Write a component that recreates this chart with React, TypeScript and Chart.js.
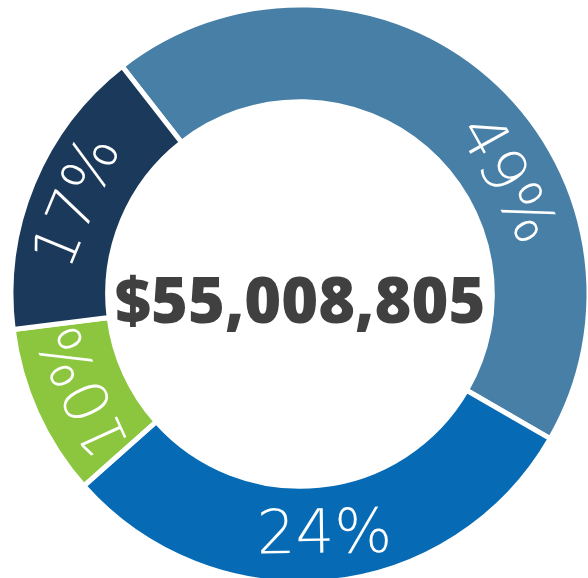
import React, { useEffect, useRef } from "react";
import { Chart, registerables } from "chart.js";

Chart.register(...registerables);

// Segment sizes as they appear in the picture (share of the ring, in %)
const segments = ["Segment A", "Segment B", "Segment C", "Segment D"];
const arcShares = [43.9, 30.1, 9.6, 16.4];
// Labels printed on the ring
const percentLabels = ["49%", "24%", "10%", "17%"];
const totalLabel = "$55,008,805";
const colors = ["#477FA6", "#066BB4", "#8CC63F", "#1B3A5B"];

// label style tweaks
const LABEL_ANGLE_SHIFT = [20, 0, 0, 0]; // degrees
const LABEL_TILT = [0, 5, 0, 0]; // degrees
const LABEL_RADIAL_SHIFT = [-3, 8, -3, 2]; // px
const LABEL_RADIUS = 236;

const ringLabels = {
  id: "ringLabels",
  afterDatasetsDraw(chart: any) {
    const ctx = chart.ctx;
    const meta = chart.getDatasetMeta(0);
    let cx = 0;
    let cy = 0;
    meta.data.forEach((arc: any, i: number) => {
      const p = arc.getProps(["x", "y", "startAngle", "endAngle"], true);
      cx = p.x;
      cy = p.y;
      const mid = (p.startAngle + p.endAngle) / 2 + (LABEL_ANGLE_SHIFT[i] * Math.PI) / 180;
      const r = LABEL_RADIUS + LABEL_RADIAL_SHIFT[i];
      const px = p.x + Math.cos(mid) * r;
      const py = p.y + Math.sin(mid) * r;
      let rot = mid + Math.PI / 2;
      let deg = ((rot * 180) / Math.PI) % 360;
      if (deg < 0) deg += 360;
      if (deg > 135 && deg < 225) rot += Math.PI;
      rot += (LABEL_TILT[i] * Math.PI) / 180;
      ctx.save();
      ctx.translate(px, py);
      ctx.rotate(rot);
      ctx.fillStyle = "#ffffff";
      ctx.font = "normal 200 61px 'DejaVu Sans', sans-serif";
      ctx.textAlign = "center";
      ctx.textBaseline = "middle";
      ctx.fillText(percentLabels[i], 0, 0);
      ctx.restore();
    });
    ctx.save();
    ctx.fillStyle = "#404040";
    ctx.font = "normal 800 63px 'Open Sans', sans-serif";
    ctx.textAlign = "center";
    ctx.textBaseline = "alphabetic";
    ctx.fillText(totalLabel, cx, cy + 29);
    ctx.restore();
  },
};

export default function App() {
  const ref = useRef<HTMLCanvasElement | null>(null);
  useEffect(() => {
    if (!ref.current) return;
    const chart = new Chart(ref.current, {
      type: "doughnut",
      data: {
        labels: segments,
        datasets: [
          {
            data: arcShares,
            backgroundColor: colors,
            borderColor: "#ffffff",
            borderWidth: 5,
            hoverOffset: 0,
          },
        ],
      },
      options: {
        responsive: false,
        animation: false,
        rotation: -38,
        radius: 289,
        cutout: 194,
        layout: { padding: 0 },
        plugins: {
          legend: { display: false },
          tooltip: { enabled: false },
          title: { display: false },
        },
        events: [],
      },
      plugins: [ringLabels],
    });
    return () => chart.destroy();
  }, []);
  return (
    <div style={{ position: "absolute", left: 0, top: 0, width: 600, height: 588, background: "#ffffff" }}>
      <canvas ref={ref} width={600} height={588} style={{ width: 600, height: 588, display: "block" }} />
    </div>
  );
}
